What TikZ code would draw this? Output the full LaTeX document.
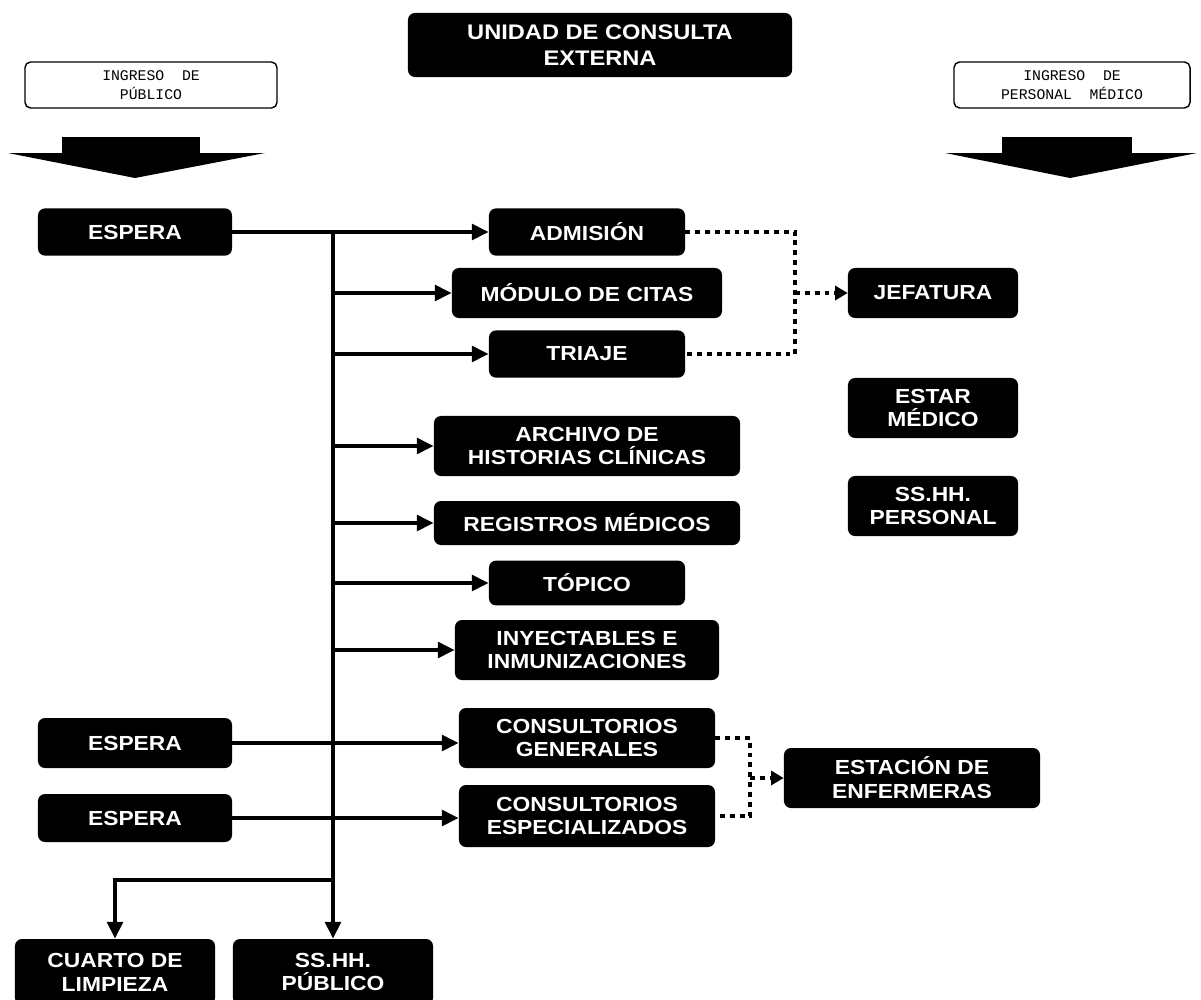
\documentclass[tikz,border=0pt]{standalone}
\usepackage{fontspec}
\setmainfont{Liberation Sans}
\newfontfamily\blkfont{Liberation Sans}[FakeStretch=1.12]
\newfontfamily\letrafont{Liberation Mono}
\usetikzlibrary{arrows.meta,positioning,calc}

\begin{document}
\begin{tikzpicture}[x=0.025cm, y=-0.025cm,
    blk/.style={rectangle, fill=black, rounded corners=5pt, text=white,
                font=\blkfont\fontsize{14.5}{17}\selectfont\bfseries, align=center,
                inner sep=1pt, minimum width=4.9cm, minimum height=1.18cm},
    ing/.style={rectangle, draw=black, fill=white, rounded corners=4pt, line width=1pt,
                font=\letrafont\fontsize{10.5}{13}\selectfont, align=center,
                minimum height=1.15cm},
    arr/.style={-{Triangle[length=12pt, width=11pt]}, line width=3.3pt, black},
    dot/.style={line width=3.5pt, black, dash pattern=on 3.5pt off 3.5pt},
    dotarr/.style={dot, -{Triangle[length=9pt, width=10pt]}}
  ]
  \useasboundingbox (0,0) rectangle (1201,999);

  % Title and entrances
  \node[blk, minimum width=9.6cm, minimum height=1.6cm,
        font=\blkfont\fontsize{15}{19}\selectfont\bfseries] (titulo) at (600,45) {UNIDAD DE CONSULTA\\EXTERNA};
  \node[ing, minimum width=6.3cm] (ingpub) at (151,85) {INGRESO\ \ DE\\PÚBLICO};
  \node[ing, minimum width=5.9cm] (ingmed) at (1072,85) {INGRESO\ \ DE\\PERSONAL\ \ MÉDICO};
  \fill (62,137) rectangle (200,153);
  \fill (8,153) -- (265,153) -- (135,178) -- cycle;
  \fill (1002,137) rectangle (1132,153);
  \fill (945,153) -- (1197,153) -- (1070,178) -- cycle;

  % Public side
  \node[blk, minimum width=4.85cm] (esp1) at (135,232) {ESPERA};
  \node[blk] (adm) at (587,232) {ADMISIÓN};
  \node[blk, minimum width=6.75cm, minimum height=1.25cm] (mod) at (587,293) {MÓDULO DE CITAS};
  \node[blk] (tri) at (587,354) {TRIAJE};
  \node[blk, minimum width=7.65cm, minimum height=1.5cm] (arch) at (587,446) {ARCHIVO DE\\HISTORIAS CLÍNICAS};
  \node[blk, minimum width=7.65cm, minimum height=1.1cm] (reg) at (587,523) {REGISTROS MÉDICOS};
  \node[blk, minimum height=1.12cm] (top) at (587,583) {TÓPICO};
  \node[blk, minimum width=6.6cm, minimum height=1.5cm] (iny) at (587,650) {INYECTABLES E\\INMUNIZACIONES};
  \node[blk, minimum width=4.85cm, minimum height=1.25cm] (esp2) at (135,743) {ESPERA};
  \node[blk, minimum width=4.85cm, minimum height=1.2cm] (esp3) at (135,818) {ESPERA};
  \node[blk, minimum width=6.4cm, minimum height=1.5cm] (cgen) at (587,738) {CONSULTORIOS\\GENERALES};
  \node[blk, minimum width=6.4cm, minimum height=1.55cm] (cesp) at (587,816) {CONSULTORIOS\\ESPECIALIZADOS};
  \node[blk, minimum width=5cm, minimum height=1.65cm] (limp) at (115,972) {CUARTO DE\\LIMPIEZA};
  \node[blk, minimum width=5cm, minimum height=1.65cm] (sshhp) at (333,972) {SS.HH.\\PÚBLICO};

  % Staff side
  \node[blk, minimum width=4.25cm, minimum height=1.25cm] (jef) at (933,293) {JEFATURA};
  \node[blk, minimum width=4.25cm, minimum height=1.5cm] (estar) at (933,408) {ESTAR\\MÉDICO};
  \node[blk, minimum width=4.25cm, minimum height=1.5cm] (sshhper) at (933,506) {SS.HH.\\PERSONAL};
  \node[blk, minimum width=6.4cm, minimum height=1.5cm] (enf) at (912,778) {ESTACIÓN DE\\ENFERMERAS};

  % Circulation
  \coordinate (t0) at (333,232);
  \coordinate (t1) at (333,880);
  \draw[arr] (esp1) -- (adm);
  \draw[arr] (t0) -- (sshhp);
  \draw[arr] (t1) -| (limp);
  \foreach \n in {mod,tri,arch,reg,top,iny}
    \draw[arr] (t0 |- \n) -- (\n);
  \draw[arr] (esp2) -- (esp2 -| cgen.west);
  \draw[arr] (esp3) -- (esp3 -| cesp.west);

  % Dotted links
  \coordinate (dj) at (795,293);
  \draw[dot] (adm.east) -| (dj) |- (tri.east);
  \draw[dotarr] (dj) -- (jef);
  \coordinate (de) at (750,778);
  \draw[dot] (cgen.east) -| (de) |- (cesp.east);
  \draw[dotarr] (de) -- (enf);
\end{tikzpicture}
\end{document}
